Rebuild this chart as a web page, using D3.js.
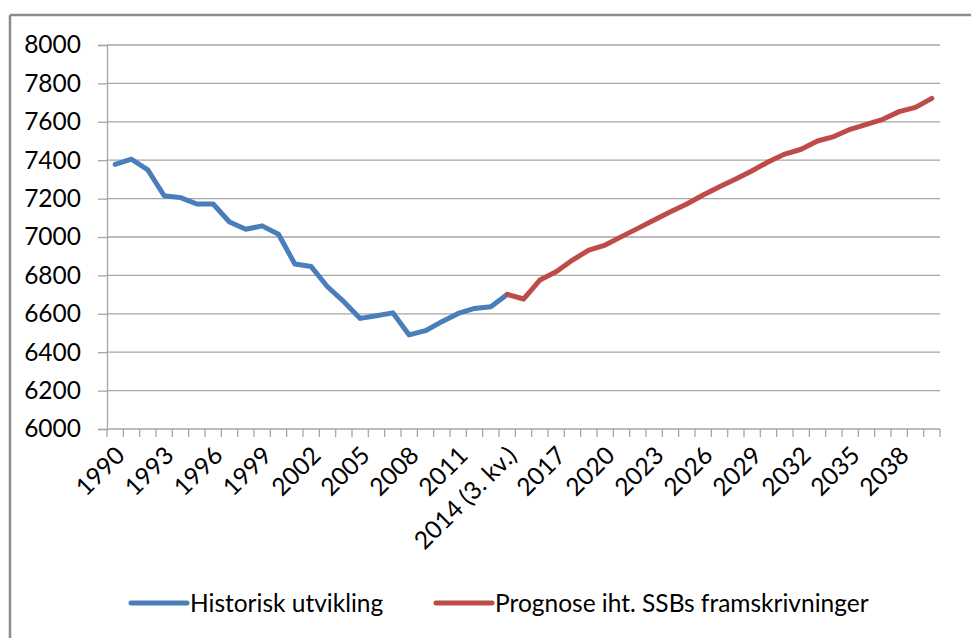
<!DOCTYPE html>
<html>
<head>
<meta charset="utf-8">
<script src="https://cdn.jsdelivr.net/npm/d3@7"></script>
<style>
  html, body { margin: 0; padding: 0; background: #fff; }
  svg { display: block; }
  text { font-family: Lato, "Open Sans", sans-serif; fill: #000; }
</style>
</head>
<body>
<svg id="chart" width="971" height="638"></svg>
<script>
// ---- data ----
const categories = [
  "1990","1991","1992","1993","1994","1995","1996","1997","1998","1999",
  "2000","2001","2002","2003","2004","2005","2006","2007","2008","2009",
  "2010","2011","2012","2013","2014 (3. kv.)","2015","2016","2017","2018","2019",
  "2020","2021","2022","2023","2024","2025","2026","2027","2028","2029",
  "2030","2031","2032","2033","2034","2035","2036","2037","2038","2039","2040"
];
// historical values (1990 .. 2014 3. kv.)
const historisk = [
  7378, 7405, 7350, 7215, 7205, 7172, 7172, 7078, 7040, 7058,
  7014, 6859, 6846, 6741, 6663, 6576, 6590, 6605, 6490, 6512,
  6559, 6602, 6628, 6637, 6701
];
// forecast values (2014 3. kv. .. 2040)
const prognose = [
  6701, 6677, 6776, 6819, 6880, 6932, 6958, 7002, 7045, 7089,
  7132, 7172, 7219, 7262, 7302, 7345, 7392, 7432, 7457, 7500,
  7523, 7561, 7587, 7613, 7653, 7675, 7722
];
const prognoseStart = 24; // index of "2014 (3. kv.)"
const yTicks = [6000, 6200, 6400, 6600, 6800, 7000, 7200, 7400, 7600, 7800, 8000];
const seriesNames = ["Historisk utvikling", "Prognose iht. SSBs framskrivninger"];
const seriesColors = ["#4A7EBB", "#BE4B48"];

// ---- layout ----
const svg = d3.select("#chart");
const plot = { left: 107, right: 940, top: 45, bottom: 429 };
const FONT = 24.5;

// frame
svg.append("line").attr("x1", 10).attr("x2", 971).attr("y1", 15).attr("y2", 15)
  .attr("stroke", "#8c8c8c").attr("stroke-width", 2.5);
svg.append("line").attr("x1", 10).attr("x2", 10).attr("y1", 15).attr("y2", 638)
  .attr("stroke", "#8c8c8c").attr("stroke-width", 2.5);

const x = d3.scaleBand().domain(categories).range([plot.left, plot.right]).paddingInner(0).paddingOuter(0);
const y = d3.scaleLinear().domain([6000, 8000]).range([plot.bottom, plot.top]);
const cx = c => x(c) + x.bandwidth() / 2;

// gridlines
svg.append("g").selectAll("line").data(yTicks.filter(v => v !== 6000)).join("line")
  .attr("x1", plot.left).attr("x2", plot.right)
  .attr("y1", d => y(d)).attr("y2", d => y(d))
  .attr("stroke", "#a6a6a6").attr("stroke-width", 1.3);

// y axis
const yAxis = svg.append("g").attr("transform", `translate(${plot.left},0)`)
  .call(d3.axisLeft(y).tickValues(yTicks).tickSize(9).tickPadding(17).tickFormat(d3.format("d")));
yAxis.select(".domain").attr("stroke", "#a6a6a6").attr("stroke-width", 1.3);
yAxis.selectAll(".tick line").attr("stroke", "#a6a6a6").attr("stroke-width", 1.3);
yAxis.selectAll("text").style("font-size", FONT + "px").style("font-family", "Lato").attr("fill", "#000");

// x axis line and ticks at category boundaries
svg.append("line").attr("x1", plot.left).attr("x2", plot.right)
  .attr("y1", plot.bottom).attr("y2", plot.bottom)
  .attr("stroke", "#a6a6a6").attr("stroke-width", 1.3);
const bounds = categories.map(c => x(c)).concat([plot.right]);
svg.append("g").selectAll("line").data(bounds).join("line")
  .attr("x1", d => d).attr("x2", d => d)
  .attr("y1", plot.bottom).attr("y2", plot.bottom + 8)
  .attr("stroke", "#a6a6a6").attr("stroke-width", 1.3);

// x labels every 3rd category
svg.append("g").selectAll("text").data(categories.filter((c, i) => i % 3 === 0)).join("text")
  .attr("transform", d => `translate(${cx(d) + 5},${plot.bottom + 22}) rotate(-45)`)
  .attr("text-anchor", "end").attr("dy", "0.35em")
  .style("font-size", FONT + "px")
  .text(d => d);

// lines
const line = d3.line().x(d => cx(d.c)).y(d => y(d.v));
const histData = historisk.map((v, i) => ({ c: categories[i], v }));
const progData = prognose.map((v, i) => ({ c: categories[prognoseStart + i], v }));
svg.append("path").datum(histData).attr("d", line).attr("fill", "none")
  .attr("stroke", seriesColors[0]).attr("stroke-width", 5)
  .attr("stroke-linejoin", "round").attr("stroke-linecap", "round");
svg.append("path").datum(progData).attr("d", line).attr("fill", "none")
  .attr("stroke", seriesColors[1]).attr("stroke-width", 5)
  .attr("stroke-linejoin", "round").attr("stroke-linecap", "round");

// legend
const legendY = 603;
const legendItems = [{ x: 131 }, { x: 436 }];
legendItems.forEach((it, i) => {
  svg.append("line").attr("x1", it.x).attr("x2", it.x + 56)
    .attr("y1", legendY).attr("y2", legendY)
    .attr("stroke", seriesColors[i]).attr("stroke-width", 5).attr("stroke-linecap", "round");
  svg.append("text").attr("x", it.x + 59).attr("y", legendY).attr("dy", "0.35em")
    .style("font-size", FONT + "px").text(seriesNames[i]);
});
</script>
</body>
</html>
